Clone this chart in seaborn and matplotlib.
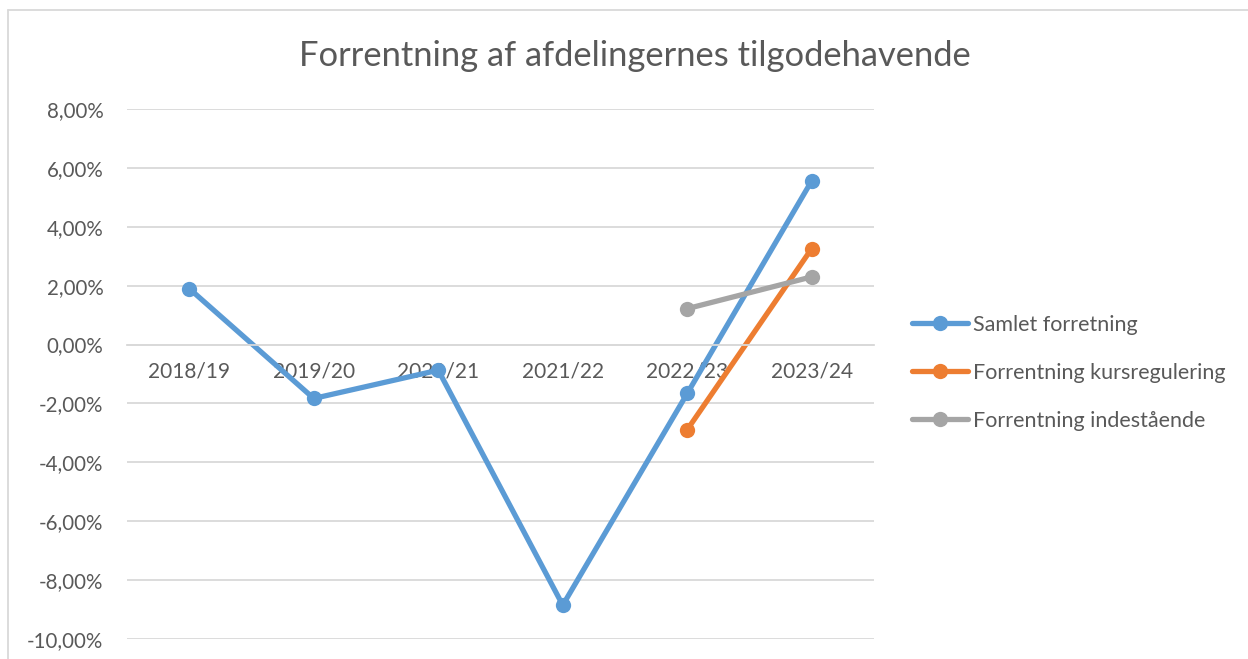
import matplotlib
matplotlib.use("Agg")
import matplotlib.pyplot as plt
import seaborn as sns
import pandas as pd
import numpy as np
from matplotlib.ticker import FuncFormatter, FixedLocator
from matplotlib.lines import Line2D

categories = ["2018/19", "2019/20", "2020/21", "2021/22", "2022/23", "2023/24"]
samlet = [1.90, -1.83, -0.87, -8.85, -1.66, 5.56]
kurs = [np.nan, np.nan, np.nan, np.nan, -2.89, 3.26]
indestaaende = [np.nan, np.nan, np.nan, np.nan, 1.22, 2.30]
series_names = ["Samlet forretning", "Forrentning kursregulering", "Forrentning indestående"]
colors = ["#5B9BD5", "#ED7D31", "#A5A5A5"]
title = "Forrentning af afdelingernes tilgodehavende"
yticks = [-10, -8, -6, -4, -2, 0, 2, 4, 6, 8]

sns.set_theme(style="white")
plt.rcParams['font.family'] = ['Lato', 'DejaVu Sans']
TXT = "#595959"
GRID = "#D9D9D9"

rows = []
for name, vals in zip(series_names, [samlet, kurs, indestaaende]):
    for i, v in enumerate(vals):
        rows.append({"idx": i, "value": v, "series": name})
df = pd.DataFrame(rows).dropna()

fig = plt.figure(figsize=(12.48, 6.59), dpi=100)
ax = fig.add_axes([0.1018, 0.0303, 0.7003 - 0.1018, 0.8346 - 0.0303])

sns.lineplot(data=df, x="idx", y="value", hue="series", hue_order=series_names,
             palette=colors, marker="o", markersize=11, markeredgewidth=0,
             linewidth=3.8, ax=ax, legend=False, sort=False)

ax.set_xlim(-0.5, len(categories) - 0.5)
ax.set_ylim(-10, 8)
ax.yaxis.set_major_locator(FixedLocator(yticks))
ax.yaxis.set_major_formatter(FuncFormatter(lambda v, p: f"{v:.2f}".replace(".", ",") + "%"))
ax.set_xticks(range(len(categories)))
ax.set_xticklabels(categories)
ax.grid(axis="y", color=GRID, linewidth=1.3)
ax.set_axisbelow(True)
for s in ["top", "right", "left"]:
    ax.spines[s].set_visible(False)
ax.spines["bottom"].set_position(("data", 0))
ax.spines["bottom"].set_color(GRID)
ax.spines["bottom"].set_linewidth(1.3)
ax.tick_params(axis="x", length=0, pad=12, labelsize=15, labelcolor=TXT)
ax.tick_params(axis="y", length=0, pad=17, labelsize=14.8, labelcolor=TXT)
ax.set_xlabel("")
ax.set_ylabel("")

fig.text(0.5085, 0.915, title, ha="center", va="center", fontsize=24.8, color=TXT)

handles = [Line2D([0], [0], color=c, linewidth=3.8, marker="o", markersize=11, markeredgewidth=0)
           for c in colors]
leg = fig.legend(handles, series_names, loc="center left", bbox_to_anchor=(0.7155, 0.434),
                 frameon=False, fontsize=15.5, handlelength=2.6, handletextpad=0.2,
                 labelspacing=1.3)
for t in leg.get_texts():
    t.set_color(TXT)

# chart area border (partially cropped)
fig.add_artist(Line2D([8/1248, 8/1248], [0, 1 - 10/659], transform=fig.transFigure, color=GRID, linewidth=1.3))
fig.add_artist(Line2D([8/1248, 1], [1 - 10/659, 1 - 10/659], transform=fig.transFigure, color=GRID, linewidth=1.3))

fig.savefig("out.png", dpi=100)
